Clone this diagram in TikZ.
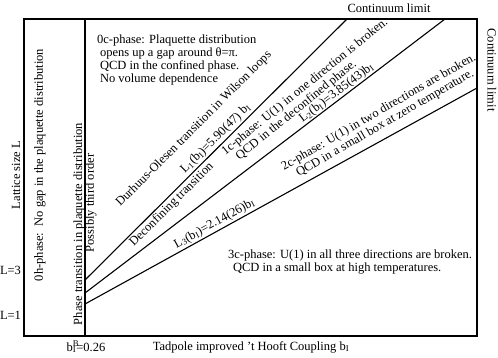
\documentclass[tikz,border=0pt]{standalone}
\usepackage{fontspec}
\setmainfont{Liberation Serif}
\usetikzlibrary{positioning}
\newcommand{\bI}{b\textsubscript{I}}

\begin{document}
\begin{tikzpicture}[
    x=1pt, y=-1pt, % pixel-like coordinates, origin top left
    font=\fontsize{12.5}{12.8}\selectfont,
    line width=1.1pt
  ]

  % Style definitions
  \tikzset{
    frame/.style={draw, line width=1.4pt},
    border/.style={draw, line width=1.1pt},
    lbl/.style={inner sep=1.5pt, align=center},
    vlbl/.style={lbl, rotate=90},
    linelbl/.style={inner sep=0.6pt, sloped}
  }

  \useasboundingbox (0,0) rectangle (498,357);

  % Frame and phase boundaries
  \coordinate (tl) at (24,19);
  \coordinate (br) at (477,336);
  \coordinate (vtop) at (85,19);
  \coordinate (vbot) at (85,336);
  \coordinate (aone) at (85,280);
  \coordinate (bone) at (347,19);
  \coordinate (atwo) at (85,293);
  \coordinate (btwo) at (445,19);
  \coordinate (athree) at (85,304);
  \coordinate (bthree) at (477,88);

  \draw[frame] (tl) rectangle (br);
  \draw[border] (vtop) -- (vbot);
  \draw[border] (aone) -- node[linelbl, above=1pt, pos=.52] (lone) {L\textsubscript{1}(\bI)=5.90(47) \bI}
    node[linelbl, below=1pt, pos=.31] (decon) {Deconfining transition} (bone);
  \draw[border] (atwo) -- node[linelbl, above, pos=.71] (ltwo) {L\textsubscript{2}(\bI)=3.85(43)\bI} (btwo);
  \draw[border] (athree) -- node[linelbl, above=1pt, pos=.34] (lthree) {L\textsubscript{3}(\bI)=2.14(26)\bI} (bthree);

  % Axis texts
  \node (ctop) [lbl] at (389,8) {Continuum limit};
  \node (cright) [lbl, rotate=-90] at (492,70) {Continuum limit};
  \node (latt) [vlbl] at (16,175) {Lattice size L};
  \node (lthr) [lbl, anchor=east] at (23,270) {L=3};
  \node (lone1) [lbl, anchor=east] at (23,315) {L=1};
  \node (bcrit) [lbl] at (86,347) {b\rlap{\textsuperscript{B}}\textsubscript{I}=0.26};
  \node (xlab) [lbl] at (251,347) {Tadpole improved 't Hooft Coupling \bI};

  % Phase descriptions
  \node (zeroh) [vlbl] at (40,165) {0h-phase:\ \ No gap in the plaquette distribution};
  \node (ptrans) [vlbl] at (79,224) {Phase transition in plaquette distribution};
  \node (third) [vlbl] at (91,203) {Possibly third order};
  \node (zeroc) [lbl, align=left, anchor=north west] at (95,33)
    {0c-phase: Plaquette distribution\\ \hspace*{3pt}opens up a gap around θ=π.\\ \hspace*{3pt}QCD in the confined phase.\\ \hspace*{3pt}No volume dependence};
  \node (durh) [lbl, rotate=45] at (194,129) {Durhuus-Olesen transition in Wilson loops};
  \node (onec) [lbl, align=left, rotate=39] at (309,92)
    {1c-phase: U(1) in one direction is broken.\\ \hspace*{8pt}QCD in the deconfined phase.};
  \node (twoc) [lbl, rotate=30] at (382,118)
    {2c-phase: U(1) in two directions are broken.\\ QCD in a small box at zero temperature.};
  \node (threec) [lbl, align=left, anchor=west] at (226,262)
    {3c-phase: U(1) in all three directions are broken.\\ \hspace*{5pt}QCD in a small box at high temperatures.};

\end{tikzpicture}
\end{document}
